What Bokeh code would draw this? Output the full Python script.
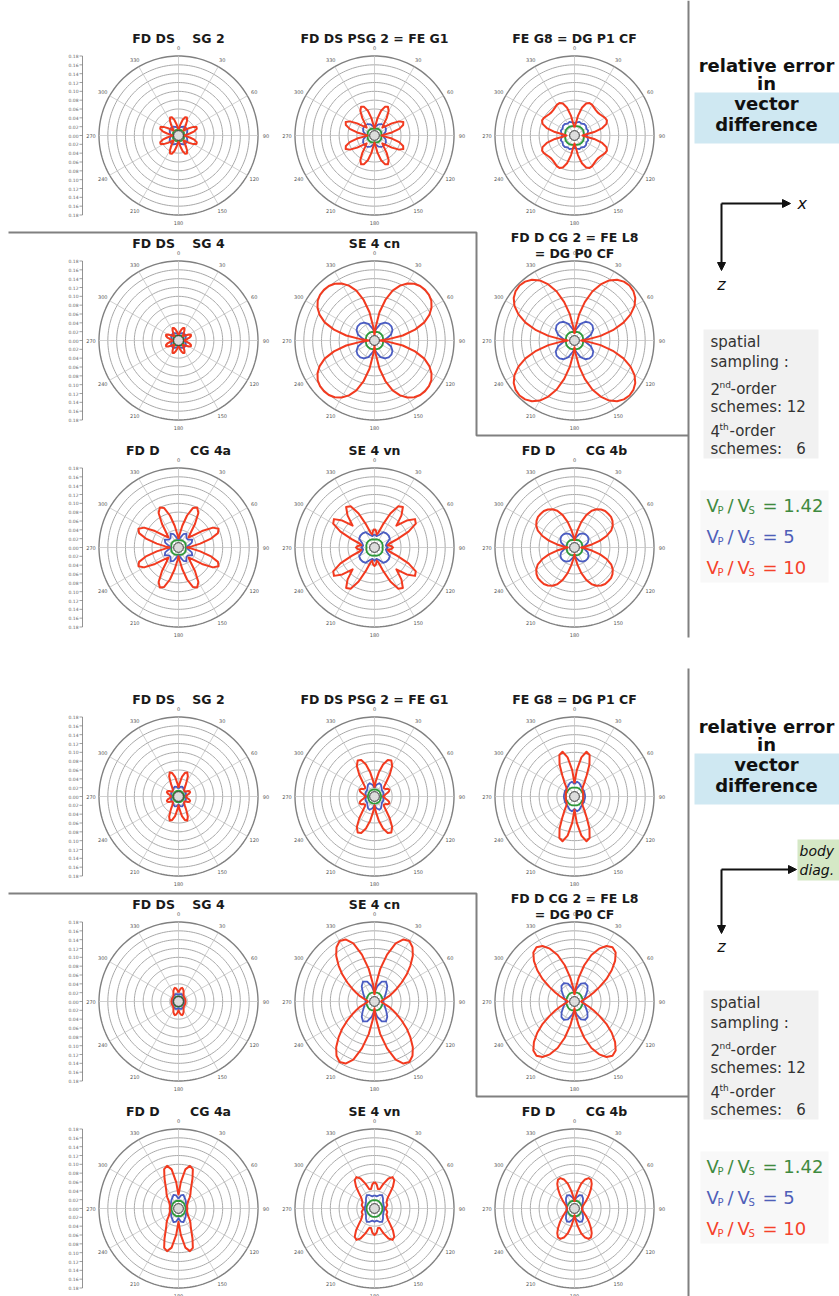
import numpy as np
from bokeh.plotting import figure
from bokeh.models import Range1d, Arrow, NormalHead
from bokeh.embed import file_html
from bokeh.resources import INLINE
from bokeh.core.properties import value

NB = "\u00a0"
# ---------------- data ----------------
TITLES = [["FD DS" + NB * 4 + "SG 2"], ["FD DS PSG 2 = FE G1"], ["FE G8 = DG P1 CF"],
          ["FD DS" + NB * 4 + "SG 4"], ["SE 4 cn"], ["FD D CG 2 = FE L8", "= DG P0 CF"],
          ["FD D" + NB * 7 + "CG 4a"], ["SE 4 vn"], ["FD D" + NB * 7 + "CG 4b"]]
ANGLE_TICKS = [0, 30, 60, 90, 120, 150, 180, 210, 240, 270, 300, 330]
ANGLE_LABELS = [str(a) for a in ANGLE_TICKS]
RING_LEVELS = [0.02, 0.04, 0.06, 0.08, 0.10, 0.12, 0.14, 0.16, 0.18]
SCALE_TICKS = [-0.18, -0.16, -0.14, -0.12, -0.10, -0.08, -0.06, -0.04, -0.02, 0.0,
               0.02, 0.04, 0.06, 0.08, 0.10, 0.12, 0.14, 0.16, 0.18]
SCALE_LABELS = ["%.2f" % abs(v) for v in SCALE_TICKS]

# relative error, one quadrant (0..90 deg clockwise from top), mirrored by symmetry
# red: Vp/Vs = 10 (5 deg steps), blue: Vp/Vs = 5 (10 deg steps), green: Vp/Vs = 1.42 (15 deg steps)
RED_X = [
    [0.014, 0.017, 0.026, 0.037, 0.044, 0.045, 0.039, 0.029, 0.020, 0.016, 0.020, 0.029, 0.039, 0.045, 0.044, 0.037, 0.026, 0.017, 0.014],
    [0.016, 0.022, 0.040, 0.058, 0.069, 0.072, 0.064, 0.048, 0.032, 0.025, 0.032, 0.048, 0.064, 0.072, 0.069, 0.058, 0.040, 0.022, 0.016],
    [0.018, 0.025, 0.045, 0.065, 0.077, 0.081, 0.080, 0.077, 0.075, 0.074, 0.075, 0.077, 0.080, 0.081, 0.077, 0.065, 0.045, 0.025, 0.018],
    [0.013, 0.015, 0.020, 0.026, 0.030, 0.031, 0.027, 0.021, 0.016, 0.014, 0.016, 0.021, 0.027, 0.031, 0.030, 0.026, 0.020, 0.015, 0.013],
    [0.012, 0.030, 0.065, 0.095, 0.120, 0.137, 0.149, 0.157, 0.161, 0.162, 0.161, 0.157, 0.149, 0.137, 0.120, 0.095, 0.065, 0.030, 0.012],
    [0.015, 0.030, 0.060, 0.090, 0.118, 0.140, 0.157, 0.168, 0.174, 0.176, 0.174, 0.168, 0.157, 0.140, 0.118, 0.090, 0.060, 0.030, 0.015],
    [0.020, 0.030, 0.050, 0.075, 0.095, 0.100, 0.090, 0.065, 0.042, 0.032, 0.042, 0.065, 0.090, 0.100, 0.095, 0.075, 0.050, 0.030, 0.020],
    [0.042, 0.038, 0.030, 0.035, 0.055, 0.085, 0.108, 0.112, 0.095, 0.070, 0.095, 0.112, 0.108, 0.085, 0.055, 0.035, 0.030, 0.038, 0.042],
    [0.015, 0.025, 0.040, 0.060, 0.078, 0.092, 0.100, 0.105, 0.108, 0.108, 0.108, 0.105, 0.100, 0.092, 0.078, 0.060, 0.040, 0.025, 0.015],
]
BLUE_X = [
    [0.016, 0.018, 0.021, 0.023, 0.024, 0.024, 0.023, 0.021, 0.018, 0.016],
    [0.018, 0.022, 0.027, 0.030, 0.031, 0.031, 0.030, 0.027, 0.022, 0.018],
    [0.028, 0.030, 0.033, 0.031, 0.034, 0.034, 0.031, 0.033, 0.030, 0.028],
    [0.014, 0.015, 0.017, 0.019, 0.020, 0.020, 0.019, 0.017, 0.015, 0.014],
    [0.020, 0.028, 0.040, 0.047, 0.050, 0.050, 0.047, 0.040, 0.028, 0.020],
    [0.020, 0.027, 0.040, 0.049, 0.053, 0.053, 0.049, 0.040, 0.027, 0.020],
    [0.018, 0.022, 0.032, 0.036, 0.028, 0.028, 0.036, 0.032, 0.022, 0.018],
    [0.030, 0.026, 0.030, 0.040, 0.042, 0.042, 0.040, 0.030, 0.026, 0.030],
    [0.018, 0.024, 0.032, 0.037, 0.039, 0.039, 0.037, 0.032, 0.024, 0.018],
]
GREEN_X = [
    [0.013, 0.013, 0.014, 0.014, 0.014, 0.013, 0.013],
    [0.015, 0.016, 0.017, 0.017, 0.017, 0.016, 0.015],
    [0.021, 0.022, 0.023, 0.023, 0.023, 0.022, 0.021],
    [0.012, 0.012, 0.013, 0.013, 0.013, 0.012, 0.012],
    [0.019, 0.020, 0.021, 0.021, 0.021, 0.020, 0.019],
    [0.019, 0.020, 0.021, 0.021, 0.021, 0.020, 0.019],
    [0.016, 0.017, 0.018, 0.018, 0.018, 0.017, 0.016],
    [0.018, 0.019, 0.020, 0.020, 0.020, 0.019, 0.018],
    [0.017, 0.018, 0.019, 0.019, 0.019, 0.018, 0.017],
]
RED_D = [
    [0.020, 0.030, 0.045, 0.055, 0.058, 0.050, 0.035, 0.025, 0.020, 0.018, 0.018, 0.020, 0.025, 0.028, 0.028, 0.025, 0.020, 0.018, 0.017],
    [0.020, 0.035, 0.055, 0.075, 0.088, 0.090, 0.080, 0.060, 0.040, 0.030, 0.028, 0.030, 0.035, 0.037, 0.035, 0.030, 0.025, 0.022, 0.020],
    [0.030, 0.060, 0.090, 0.105, 0.100, 0.080, 0.055, 0.040, 0.030, 0.025, 0.023, 0.022, 0.022, 0.022, 0.021, 0.020, 0.020, 0.020, 0.020],
    [0.020, 0.025, 0.030, 0.032, 0.030, 0.027, 0.023, 0.020, 0.018, 0.017, 0.016, 0.016, 0.016, 0.016, 0.016, 0.016, 0.016, 0.016, 0.016],
    [0.015, 0.040, 0.075, 0.110, 0.140, 0.155, 0.158, 0.150, 0.135, 0.115, 0.095, 0.075, 0.058, 0.045, 0.035, 0.025, 0.020, 0.016, 0.015],
    [0.015, 0.030, 0.055, 0.085, 0.112, 0.132, 0.145, 0.150, 0.145, 0.130, 0.110, 0.088, 0.065, 0.048, 0.035, 0.026, 0.020, 0.017, 0.015],
    [0.030, 0.060, 0.090, 0.100, 0.095, 0.075, 0.058, 0.048, 0.042, 0.036, 0.030, 0.026, 0.024, 0.022, 0.021, 0.020, 0.020, 0.020, 0.020],
    [0.060, 0.055, 0.045, 0.045, 0.060, 0.075, 0.082, 0.078, 0.065, 0.050, 0.040, 0.035, 0.032, 0.030, 0.030, 0.030, 0.028, 0.026, 0.025],
    [0.015, 0.025, 0.040, 0.058, 0.070, 0.076, 0.075, 0.068, 0.058, 0.048, 0.040, 0.033, 0.028, 0.024, 0.021, 0.019, 0.018, 0.017, 0.017],
]
BLUE_D = [
    [0.018, 0.022, 0.024, 0.022, 0.019, 0.018, 0.018, 0.018, 0.017, 0.016],
    [0.020, 0.027, 0.032, 0.030, 0.025, 0.022, 0.022, 0.022, 0.020, 0.019],
    [0.028, 0.034, 0.032, 0.028, 0.026, 0.025, 0.025, 0.024, 0.024, 0.024],
    [0.015, 0.017, 0.018, 0.017, 0.016, 0.015, 0.015, 0.015, 0.015, 0.015],
    [0.020, 0.035, 0.048, 0.052, 0.045, 0.035, 0.028, 0.024, 0.021, 0.020],
    [0.020, 0.030, 0.043, 0.048, 0.046, 0.038, 0.030, 0.025, 0.021, 0.020],
    [0.022, 0.030, 0.033, 0.028, 0.025, 0.022, 0.020, 0.020, 0.019, 0.019],
    [0.030, 0.028, 0.032, 0.035, 0.030, 0.025, 0.023, 0.022, 0.022, 0.022],
    [0.018, 0.025, 0.032, 0.034, 0.030, 0.025, 0.021, 0.019, 0.018, 0.018],
]
GREEN_D = [
    [0.013, 0.013, 0.013, 0.013, 0.013, 0.013, 0.013],
    [0.016, 0.016, 0.016, 0.016, 0.015, 0.015, 0.015],
    [0.020, 0.021, 0.021, 0.020, 0.020, 0.020, 0.020],
    [0.012, 0.012, 0.012, 0.012, 0.012, 0.012, 0.012],
    [0.020, 0.021, 0.021, 0.020, 0.019, 0.019, 0.019],
    [0.020, 0.021, 0.021, 0.020, 0.019, 0.019, 0.019],
    [0.017, 0.018, 0.017, 0.017, 0.016, 0.016, 0.016],
    [0.019, 0.019, 0.019, 0.018, 0.018, 0.018, 0.018],
    [0.017, 0.018, 0.018, 0.017, 0.017, 0.017, 0.017],
]
LEGEND_RATIOS = ["1.42", "5", "10"]

# ---------------- layout / style ----------------
W, H = 839, 1296
COL_X = [178, 374, 574]
ROW_Y = [135, 340, 547]
BLOCK_SHIFT = 661
R_OUT = 79.5
K = R_OUT / 0.18
RED, BLUE, GREEN = "#f23a1f", "#4a5cc2", "#2e9a3a"
LEG_COLORS = ["#3f8a3f", "#4f5fb8", "#f5412a"]
FONT = value("DejaVu Sans")

p = figure(width=W, height=H, output_backend="svg", toolbar_location=None,
           x_range=Range1d(0, W), y_range=Range1d(H, 0),
           x_axis_type=None, y_axis_type=None, min_border=0)
p.grid.visible = False
p.outline_line_color = None
p.background_fill_color = "white"


def txt(x, y, s, size, color="#222222", style="normal", align="left", font=FONT):
    p.text(x=[x], y=[y], text=[s], text_font=font, text_font_size=size,
           text_color=color, text_font_style=style, text_align=align,
           text_baseline="middle")


def full_curve(q):
    q = np.asarray(q, dtype=float)
    a = np.linspace(0, 90, len(q))
    ang = np.concatenate([a, 180 - a[::-1][1:], 180 + a[1:], 360 - a[::-1][1:]])
    r = np.concatenate([q, q[::-1][1:], q[1:], q[::-1][1:]])
    return np.radians(ang), r


def polar_panel(cx, cy, red, blue, green, title, left):
    th = np.radians(np.arange(0, 361, 2))
    rx, ry = [], []
    for lev in RING_LEVELS:
        rx.append(list(cx + K * lev * np.sin(th)))
        ry.append(list(cy - K * lev * np.cos(th)))
    p.multi_line(rx[:-1], ry[:-1], line_color="#a8a8a8", line_width=1)
    p.multi_line([rx[-1]], [ry[-1]], line_color="#808080", line_width=1.4)
    sx, sy = [], []
    for a in ANGLE_TICKS:
        t = np.radians(a)
        sx.append([cx + K * 0.011 * np.sin(t), cx + K * 0.18 * np.sin(t)])
        sy.append([cy - K * 0.011 * np.cos(t), cy - K * 0.18 * np.cos(t)])
    p.multi_line(sx, sy, line_color="#c4c4c4", line_width=0.8)
    lt = np.radians(ANGLE_TICKS)
    p.text(x=list(cx + (R_OUT + 8) * np.sin(lt)), y=list(cy - (R_OUT + 8) * np.cos(lt)),
           text=ANGLE_LABELS, text_font=FONT, text_font_size="5px", text_color="#555555",
           text_align="center", text_baseline="middle")
    for q, col, lw in ((green, GREEN, 1.8), (blue, BLUE, 1.8), (red, RED, 2.0)):
        t, r = full_curve(q)
        p.line(list(cx + K * r * np.sin(t)), list(cy - K * r * np.cos(t)),
               line_color=col, line_width=lw, line_join="round")
    p.circle(x=[cx], y=[cy], radius=K * 0.011, fill_color="#dcdcdc",
             line_color="#333333", line_width=1)
    if len(title) == 1:
        txt(cx, cy - 97, title[0], "12.5px", "#1a1a1a", "bold", "center")
    else:
        txt(cx, cy - 103, title[0], "12.5px", "#1a1a1a", "bold", "center")
        txt(cx, cy - 87, title[1], "12.5px", "#1a1a1a", "bold", "center")
    if left:
        bx = cx - 96
        ys = [cy + K * v for v in SCALE_TICKS]
        p.line([bx, bx], [cy - R_OUT, cy + R_OUT], line_color="#777777", line_width=0.8)
        p.multi_line([[bx - 3, bx] for _ in ys], [[y, y] for y in ys],
                      line_color="#777777", line_width=0.7)
        p.text(x=[bx - 4] * len(ys), y=ys, text=SCALE_LABELS, text_font=FONT,
               text_font_size="4.5px", text_color="#666666", text_align="right",
               text_baseline="middle")


def side_panel(dy, diag):
    txt(766, 65 + dy, "relative error", "18px", "#111111", "bold", "center")
    txt(766, 83 + dy, "in", "18px", "#111111", "bold", "center")
    p.quad(left=[694], right=[839], top=[92 + dy], bottom=[143 + dy],
           fill_color="#cfe8f2", line_color=None)
    txt(766, 103 + dy, "vector", "18px", "#111111", "bold", "center")
    txt(766, 124 + dy, "difference", "18px", "#111111", "bold", "center")
    head = dict(size=8, fill_color="#111111", line_color="#111111")
    if not diag:
        hy, tip = 203, 790
        p.add_layout(Arrow(end=NormalHead(**head), x_start=721, y_start=hy, x_end=tip,
                           y_end=hy, line_width=2, line_color="#111111"))
        txt(797, hy, "x", "16px", "#111111", "italic", "left")
        vy, zy = 270, 284
    else:
        hy, tip = 869, 796
        p.quad(left=[797], right=[839], top=[839], bottom=[880],
               fill_color="#d5e8c6", line_color=None)
        txt(799, 850, "body", "14px", "#111111", "italic", "left")
        txt(799, 869, "diag.", "14px", "#111111", "italic", "left")
        p.add_layout(Arrow(end=NormalHead(**head), x_start=721, y_start=hy, x_end=tip,
                           y_end=hy, line_width=2, line_color="#111111"))
        vy, zy = 933, 946
    p.add_layout(Arrow(end=NormalHead(**head), x_start=721, y_start=hy, x_end=721,
                       y_end=vy, line_width=2, line_color="#111111"))
    txt(721, zy, "z", "16px", "#111111", "italic", "center")
    p.quad(left=[703], right=[818], top=[329 + dy], bottom=[458 + dy],
           fill_color="#f1f1f1", line_color=None)
    c = "#333333"
    txt(710, 341 + dy, "spatial", "15px", c)
    txt(710, 361 + dy, "sampling :", "15px", c)
    txt(710, 388 + dy, "2", "15px", c)
    txt(719, 384 + dy, "nd", "9px", c)
    txt(730, 388 + dy, "-order", "15px", c)
    txt(710, 406 + dy, "schemes: 12", "15px", c)
    txt(710, 430 + dy, "4", "15px", c)
    txt(719, 426 + dy, "th", "9px", c)
    txt(729, 430 + dy, "-order", "15px", c)
    txt(710, 448 + dy, "schemes:" + NB * 3 + "6", "15px", c)
    p.quad(left=[700], right=[828], top=[490 + dy], bottom=[582 + dy],
           fill_color="#f8f8f8", line_color=None)
    for i, (ratio, col) in enumerate(zip(LEGEND_RATIOS, LEG_COLORS)):
        ly = 505 + dy + 31 * i
        txt(706, ly, "V", "18px", col)
        txt(717, ly + 5, "P", "10px", col)
        txt(727, ly, "/", "18px", col)
        txt(737, ly, "V", "18px", col)
        txt(748, ly + 5, "S", "10px", col)
        txt(762, ly, "=" + NB + ratio, "18px", col)


for b, (reds, blues, greens) in enumerate(((RED_X, BLUE_X, GREEN_X), (RED_D, BLUE_D, GREEN_D))):
    dy = b * BLOCK_SHIFT
    for i in range(9):
        r, c = divmod(i, 3)
        polar_panel(COL_X[c], ROW_Y[r] + dy, reds[i], blues[i], greens[i], TITLES[i], c == 0)
    p.line([8, 476, 476, 688], [232 + dy, 232 + dy, 435 + dy, 435 + dy],
           line_color="#808080", line_width=2)
    side_panel(dy, b == 1)

p.multi_line([[688, 688], [688, 688]], [[0, 637], [668, 1296]],
             line_color="#808080", line_width=2)

open("out.html", "w").write(file_html(p, INLINE))
